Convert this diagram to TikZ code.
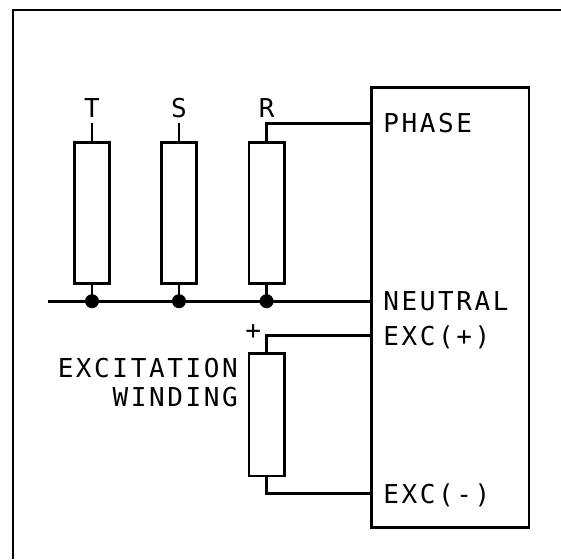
\documentclass[tikz,border=0pt]{standalone}
\usepackage{fontspec}
\newfontfamily\plotfont[LetterSpace=10]{DejaVu Sans Mono}
\begin{document}
\begin{tikzpicture}[x=1pt,y=-1pt,line width=2.6pt,
  resbox/.style={draw,rectangle,inner sep=0pt,minimum width=35.5pt,minimum height=141.5pt},
  windbox/.style={draw,rectangle,inner sep=0pt,minimum width=35.5pt,minimum height=122.4pt},
  lbl/.style={inner sep=0pt,font=\plotfont\fontsize{26}{26}\selectfont,text height=19pt,text depth=0pt},
  dot/.style={fill,circle,inner sep=0pt,minimum size=14pt}]
\useasboundingbox (0,0) rectangle (561,559);
% outer frame
\draw[line width=2.8pt] (561,10) -- (13,10) -- (13,559);
% main box
\node[draw,rectangle,inner sep=0pt,minimum width=157.4pt,minimum height=440pt] (box) at (450.1,307.7) {};
% terminal labels
\node[lbl,anchor=west] (phase) at (382,123.4) {PHASE};
\node[lbl,anchor=west] (neutral) at (382,301.2) {NEUTRAL};
\node[lbl,anchor=west] (excp) at (382,335.6) {EXC(+)};
\node[lbl,anchor=west] (excm) at (382,493.7) {EXC(-)};
% resistors
\node[resbox] (rT) at (92,213) {};
\node[resbox] (rS) at (179,213) {};
\node[resbox] (rR) at (266.6,213) {};
\node[lbl] (lT) at (92,108) {T};
\node[lbl] (lS) at (179,108) {S};
\node[lbl] (lR) at (266.6,108) {R};
\coordinate (tT) at (92,123.4);
\coordinate (tS) at (179,123.4);
\draw (rT.north) -- (tT);
\draw (rS.north) -- (tS);
\draw (rR.north) |- (box.west |- phase.west);
% neutral bus
\coordinate (nL) at (47.6,301.2);
\draw (nL) -- (box.west |- neutral.west);
\node[dot] (dT) at (rT.south |- neutral.west) {};
\node[dot] (dS) at (rS.south |- neutral.west) {};
\node[dot] (dR) at (rR.south |- neutral.west) {};
\draw (rT.south) -- (dT.center);
\draw (rS.south) -- (dS.center);
\draw (rR.south) -- (dR.center);
% excitation winding
\node[windbox] (W) at (266.6,414.7) {};
\draw (W.north) |- (box.west |- excp.west);
\draw (W.south) |- (box.west |- excm.west);
\node[lbl,text height=12pt] (plus) at (253.3,333) {+};
\node[lbl,anchor=east] (exc) at (239,368) {EXCITATION};
\node[lbl,anchor=east] (wind) at (239,397) {WINDING};
\end{tikzpicture}
\end{document}
